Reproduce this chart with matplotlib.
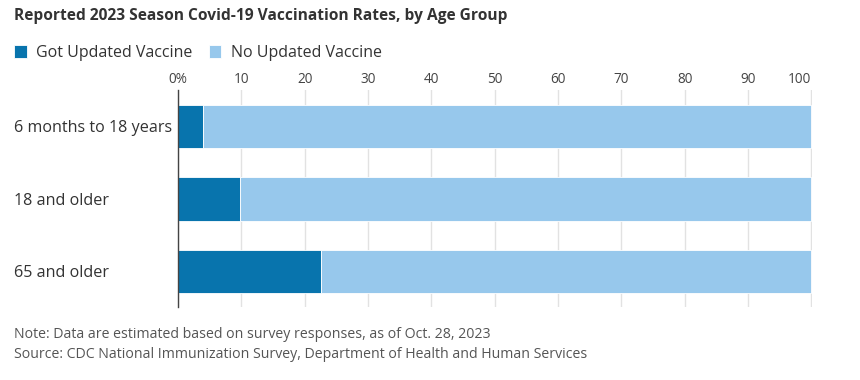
import matplotlib
matplotlib.use("Agg")
import matplotlib.pyplot as plt

plt.rcParams['font.family'] = ['Open Sans', 'DejaVu Sans']

groups = ["6 months to 18 years", "18 and older", "65 and older"]
got_vaccine = [3.9, 9.8, 22.5]
no_vaccine = [100 - v for v in got_vaccine]
ticks = [0, 10, 20, 30, 40, 50, 60, 70, 80, 90, 100]
tick_labels = ["0%"] + [str(t) for t in ticks[1:]]

dark = "#0874ad"
light = "#97c8ec"
text_col = "#333333"

fig = plt.figure(figsize=(8.6, 3.8), dpi=100)
ax = fig.add_axes([178 / 860, 1 - 307 / 380, (812 - 178) / 860, 217 / 380])

y = range(len(groups))
b1 = ax.barh(y, got_vaccine, height=0.6, color=dark, edgecolor="white",
             linewidth=0.6, label="Got Updated Vaccine", zorder=3)
b2 = ax.barh(y, no_vaccine, left=got_vaccine, height=0.6, color=light,
             edgecolor="white", linewidth=0.6, label="No Updated Vaccine", zorder=3)

ax.set_ylim(2.49, -0.5)
ax.set_xlim(0, 100.1)
ax.set_yticks(list(y))
ax.set_yticklabels(groups, fontsize=11.6, color=text_col)
# labels start at the left margin
ax.tick_params(axis="y", length=0, pad=(178 - 14) * 0.72)
for lab in ax.get_yticklabels():
    lab.set_horizontalalignment("left")

ax.xaxis.tick_top()
ax.set_xticks(ticks)
ax.set_xticklabels(tick_labels, fontsize=9.8, color="#444444")
ax.get_xticklabels()[-1].set_horizontalalignment("right")
ax.tick_params(axis="x", length=0, pad=2.5)
ax.grid(axis="x", color="#e2e2e2", linewidth=1, zorder=0)

for s in ["top", "right", "bottom"]:
    ax.spines[s].set_visible(False)
ax.spines["left"].set_color("#444444")
ax.spines["left"].set_linewidth(1)
ax.spines["left"].set_zorder(4)

fig.text(14 / 860, 1 - 16 / 380, "Reported 2023 Season Covid-19 Vaccination Rates, by Age Group",
         fontsize=11.2, fontweight="bold", color=text_col, va="center", ha="left")

fig.legend(handles=[b1, b2], loc="center left", bbox_to_anchor=(14 / 860, 1 - 53 / 380),
           ncol=2, frameon=False, fontsize=11.5, handlelength=0.8, handleheight=0.8,
           handletextpad=0.6, columnspacing=1.0, labelcolor=text_col,
           borderpad=0, borderaxespad=0)

fig.text(14 / 860, 1 - 334 / 380, "Note: Data are estimated based on survey responses, as of Oct. 28, 2023",
         fontsize=10.2, color="#555555", va="center", ha="left")
fig.text(14 / 860, 1 - 355 / 380, "Source: CDC National Immunization Survey, Department of Health and Human Services",
         fontsize=10.2, color="#555555", va="center", ha="left")

fig.savefig("out.png", dpi=100)
